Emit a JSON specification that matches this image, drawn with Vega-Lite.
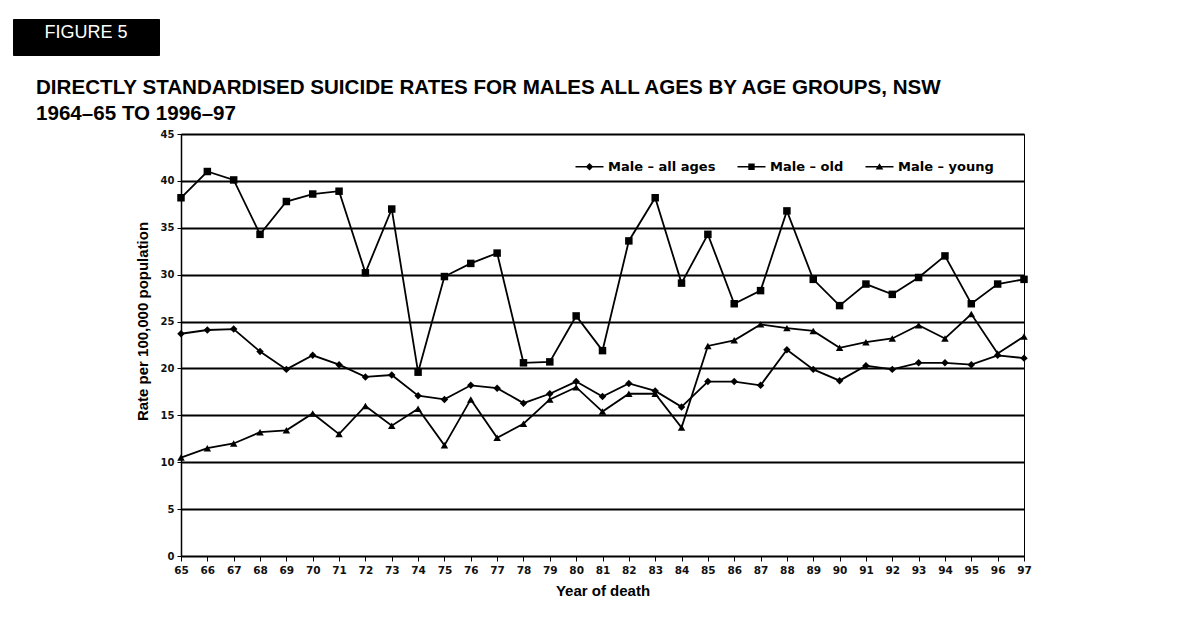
{
  "$schema": "https://vega.github.io/schema/vega-lite/v6.json",
  "background": "white",
  "padding": {"left": 12, "top": 18, "right": 5, "bottom": 5},
  "config": {"font": "Liberation Sans"},
  "width": 843,
  "height": 422,
  "view": {"stroke": "black", "strokeWidth": 1},
  "title": {
    "text": ["DIRECTLY STANDARDISED SUICIDE RATES FOR MALES ALL AGES BY AGE GROUPS, NSW", "1964–65 TO 1996–97"],
    "anchor": "start", "frame": "group", "dx": -145, "dy": 106, "offset": 0,
    "fontSize": 20.6, "fontWeight": "bold", "lineHeight": 26, "color": "black", "font": "Liberation Sans"
  },
  "data": {"values": [
    {"year": 65, "series": "Male – all ages", "rate": 23.7},
    {"year": 66, "series": "Male – all ages", "rate": 24.1},
    {"year": 67, "series": "Male – all ages", "rate": 24.2},
    {"year": 68, "series": "Male – all ages", "rate": 21.8},
    {"year": 69, "series": "Male – all ages", "rate": 19.9},
    {"year": 70, "series": "Male – all ages", "rate": 21.4},
    {"year": 71, "series": "Male – all ages", "rate": 20.4},
    {"year": 72, "series": "Male – all ages", "rate": 19.1},
    {"year": 73, "series": "Male – all ages", "rate": 19.3},
    {"year": 74, "series": "Male – all ages", "rate": 17.1},
    {"year": 75, "series": "Male – all ages", "rate": 16.7},
    {"year": 76, "series": "Male – all ages", "rate": 18.2},
    {"year": 77, "series": "Male – all ages", "rate": 17.9},
    {"year": 78, "series": "Male – all ages", "rate": 16.3},
    {"year": 79, "series": "Male – all ages", "rate": 17.3},
    {"year": 80, "series": "Male – all ages", "rate": 18.6},
    {"year": 81, "series": "Male – all ages", "rate": 17.0},
    {"year": 82, "series": "Male – all ages", "rate": 18.4},
    {"year": 83, "series": "Male – all ages", "rate": 17.6},
    {"year": 84, "series": "Male – all ages", "rate": 15.9},
    {"year": 85, "series": "Male – all ages", "rate": 18.6},
    {"year": 86, "series": "Male – all ages", "rate": 18.6},
    {"year": 87, "series": "Male – all ages", "rate": 18.2},
    {"year": 88, "series": "Male – all ages", "rate": 22.0},
    {"year": 89, "series": "Male – all ages", "rate": 19.9},
    {"year": 90, "series": "Male – all ages", "rate": 18.7},
    {"year": 91, "series": "Male – all ages", "rate": 20.3},
    {"year": 92, "series": "Male – all ages", "rate": 19.9},
    {"year": 93, "series": "Male – all ages", "rate": 20.6},
    {"year": 94, "series": "Male – all ages", "rate": 20.6},
    {"year": 95, "series": "Male – all ages", "rate": 20.4},
    {"year": 96, "series": "Male – all ages", "rate": 21.4},
    {"year": 97, "series": "Male – all ages", "rate": 21.1},
    {"year": 65, "series": "Male – old", "rate": 38.2},
    {"year": 66, "series": "Male – old", "rate": 41.0},
    {"year": 67, "series": "Male – old", "rate": 40.1},
    {"year": 68, "series": "Male – old", "rate": 34.3},
    {"year": 69, "series": "Male – old", "rate": 37.8},
    {"year": 70, "series": "Male – old", "rate": 38.6},
    {"year": 71, "series": "Male – old", "rate": 38.9},
    {"year": 72, "series": "Male – old", "rate": 30.2},
    {"year": 73, "series": "Male – old", "rate": 37.0},
    {"year": 74, "series": "Male – old", "rate": 19.6},
    {"year": 75, "series": "Male – old", "rate": 29.8},
    {"year": 76, "series": "Male – old", "rate": 31.2},
    {"year": 77, "series": "Male – old", "rate": 32.3},
    {"year": 78, "series": "Male – old", "rate": 20.6},
    {"year": 79, "series": "Male – old", "rate": 20.7},
    {"year": 80, "series": "Male – old", "rate": 25.6},
    {"year": 81, "series": "Male – old", "rate": 21.9},
    {"year": 82, "series": "Male – old", "rate": 33.6},
    {"year": 83, "series": "Male – old", "rate": 38.2},
    {"year": 84, "series": "Male – old", "rate": 29.1},
    {"year": 85, "series": "Male – old", "rate": 34.3},
    {"year": 86, "series": "Male – old", "rate": 26.9},
    {"year": 87, "series": "Male – old", "rate": 28.3},
    {"year": 88, "series": "Male – old", "rate": 36.8},
    {"year": 89, "series": "Male – old", "rate": 29.5},
    {"year": 90, "series": "Male – old", "rate": 26.7},
    {"year": 91, "series": "Male – old", "rate": 29.0},
    {"year": 92, "series": "Male – old", "rate": 27.9},
    {"year": 93, "series": "Male – old", "rate": 29.7},
    {"year": 94, "series": "Male – old", "rate": 32.0},
    {"year": 95, "series": "Male – old", "rate": 26.9},
    {"year": 96, "series": "Male – old", "rate": 29.0},
    {"year": 97, "series": "Male – old", "rate": 29.5},
    {"year": 65, "series": "Male – young", "rate": 10.5},
    {"year": 66, "series": "Male – young", "rate": 11.5},
    {"year": 67, "series": "Male – young", "rate": 12.0},
    {"year": 68, "series": "Male – young", "rate": 13.2},
    {"year": 69, "series": "Male – young", "rate": 13.4},
    {"year": 70, "series": "Male – young", "rate": 15.2},
    {"year": 71, "series": "Male – young", "rate": 13.0},
    {"year": 72, "series": "Male – young", "rate": 16.0},
    {"year": 73, "series": "Male – young", "rate": 13.9},
    {"year": 74, "series": "Male – young", "rate": 15.7},
    {"year": 75, "series": "Male – young", "rate": 11.8},
    {"year": 76, "series": "Male – young", "rate": 16.7},
    {"year": 77, "series": "Male – young", "rate": 12.6},
    {"year": 78, "series": "Male – young", "rate": 14.1},
    {"year": 79, "series": "Male – young", "rate": 16.7},
    {"year": 80, "series": "Male – young", "rate": 18.0},
    {"year": 81, "series": "Male – young", "rate": 15.4},
    {"year": 82, "series": "Male – young", "rate": 17.3},
    {"year": 83, "series": "Male – young", "rate": 17.3},
    {"year": 84, "series": "Male – young", "rate": 13.7},
    {"year": 85, "series": "Male – young", "rate": 22.4},
    {"year": 86, "series": "Male – young", "rate": 23.0},
    {"year": 87, "series": "Male – young", "rate": 24.7},
    {"year": 88, "series": "Male – young", "rate": 24.3},
    {"year": 89, "series": "Male – young", "rate": 24.0},
    {"year": 90, "series": "Male – young", "rate": 22.2},
    {"year": 91, "series": "Male – young", "rate": 22.8},
    {"year": 92, "series": "Male – young", "rate": 23.2},
    {"year": 93, "series": "Male – young", "rate": 24.6},
    {"year": 94, "series": "Male – young", "rate": 23.2},
    {"year": 95, "series": "Male – young", "rate": 25.8},
    {"year": 96, "series": "Male – young", "rate": 21.6},
    {"year": 97, "series": "Male – young", "rate": 23.4}
  ]},
  "encoding": {
    "x": {
      "field": "year", "type": "quantitative",
      "scale": {"domain": [65, 97], "nice": false, "zero": false},
      "axis": {
        "values": [65,66,67,68,69,70,71,72,73,74,75,76,77,78,79,80,81,82,83,84,85,86,87,88,89,90,91,92,93,94,95,96,97],
        "format": "d", "title": "Year of death", "grid": false, "domain": false,
        "tickColor": "black", "tickSize": 5, "tickWidth": 1,
        "labelFont": "DejaVu Sans", "labelFontWeight": "bold", "labelFontSize": 10.5, "labelColor": "#111",
        "labelPadding": 4, "labelFlush": false, "labelOverlap": false,
        "titleFont": "Liberation Sans", "titleFontSize": 15, "titleFontWeight": "bold", "titleColor": "black", "titlePadding": 8
      }
    },
    "y": {
      "field": "rate", "type": "quantitative",
      "scale": {"domain": [0, 45], "nice": false},
      "axis": {
        "values": [0,5,10,15,20,25,30,35,40,45],
        "title": "Rate per 100,000 population", "grid": true, "gridColor": "black", "gridWidth": 2, "gridOpacity": 1,
        "domainColor": "black", "domainWidth": 1.5, "tickColor": "black", "tickSize": 4,
        "labelFont": "DejaVu Sans", "labelFontWeight": "bold", "labelFontSize": 10, "labelColor": "#111", "labelPadding": 3,
        "titleFont": "Liberation Sans", "titleFontSize": 15, "titleFontWeight": "bold", "titleColor": "black", "titlePadding": 10,
        "titleY": 187
      }
    }
  },
  "resolve": {"scale": {"shape": "independent", "size": "independent"}, "legend": {"shape": "independent", "size": "independent"}},
  "layer": [
    {
      "mark": {"type": "line", "color": "black", "strokeWidth": 1.8},
      "encoding": {"detail": {"field": "series", "type": "nominal"}}
    },
    {
      "mark": {"type": "point", "filled": true, "color": "black", "opacity": 1},
      "encoding": {
        "shape": {
          "field": "series", "type": "nominal",
          "scale": {"domain": ["Male – all ages", "Male – old", "Male – young"], "range": ["diamond", "square", "triangle-up"]},
          "legend": null
        },
        "size": {
          "field": "series", "type": "nominal",
          "scale": {"domain": ["Male – all ages", "Male – old", "Male – young"], "range": [56, 56, 64]},
          "legend": {
            "title": "FIGURE 5", "values": ["Male – old"], "orient": "none", "legendX": -168, "legendY": -115,
            "fillColor": "black", "strokeColor": "black", "padding": 5,
            "titleColor": "white", "titleFont": "Liberation Sans", "titleFontSize": 18, "titleFontWeight": "normal",
            "titleAnchor": "middle", "titlePadding": 0, "titleLimit": 200,
            "symbolOpacity": 0, "symbolStrokeWidth": 0, "labelOpacity": 0, "labelFontSize": 1, "labelOffset": 123
          }
        }
      }
    },
    {
      "mark": {"type": "point", "filled": true, "color": "black", "opacity": 0, "size": 64},
      "encoding": {
        "shape": {
          "field": "series", "type": "nominal",
          "scale": {
            "domain": ["Male – all ages", "Male – old", "Male – young"],
            "range": [
              "M-3.5,-0.16H3.5V0.16H-3.5Z M0,-0.95L0.95,0L0,0.95L-0.95,0Z",
              "M-3.5,-0.16H3.5V0.16H-3.5Z M-0.8,-0.8H0.8V0.8H-0.8Z",
              "M-3.5,-0.16H3.5V0.16H-3.5Z M0,-0.85L0.95,0.7L-0.95,0.7Z"
            ]
          },
          "legend": {
            "title": null, "orient": "none", "legendX": 402, "legendY": 26, "direction": "horizontal",
            "symbolSize": 64, "symbolOpacity": 1, "symbolFillColor": "black", "symbolStrokeWidth": 0,
            "labelFont": "DejaVu Sans", "labelFontWeight": "bold", "labelFontSize": 13, "labelColor": "black",
            "labelOffset": 12, "columnPadding": 21
          }
        }
      }
    }
  ]
}
